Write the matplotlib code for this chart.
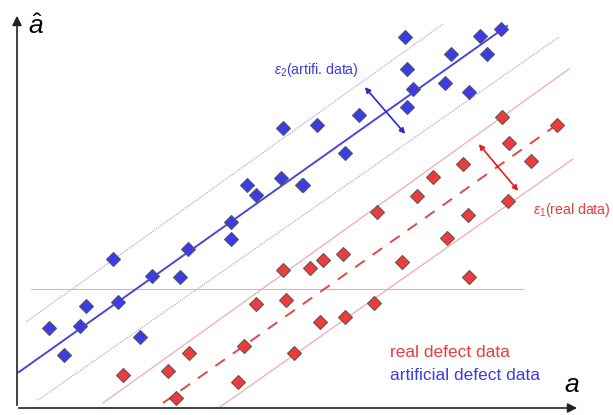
import matplotlib.pyplot as plt

plt.rcParams['font.family'] = ['Liberation Sans', 'DejaVu Sans']
plt.rcParams['mathtext.fontset'] = 'custom'
plt.rcParams['mathtext.rm'] = 'Liberation Sans'
plt.rcParams['mathtext.it'] = 'Liberation Sans:italic'

# schematic coordinates (a to the right, a_hat upward), in figure pixels
blue_a = [283, 317, 247, 256, 281, 302, 405, 480, 501, 451, 487, 407, 413, 445,
          469, 407, 359, 345, 303, 231, 231, 113, 188, 152, 180, 86, 118, 49, 80, 140, 64]
blue_ahat = [287, 290, 230, 220, 237, 230, 378, 379, 386, 361, 361, 346, 326, 332,
             323, 308, 300, 262, 230, 193, 176, 156, 166, 139, 138, 109, 113, 87, 89, 78, 60]

red_a = [502, 557, 509, 531, 463, 433, 417, 508, 377, 468, 447, 343, 323, 310, 402,
         469, 374, 345, 320, 283, 286, 256, 244, 189, 294, 123, 168, 238, 176]
red_ahat = [298, 290, 272, 254, 251, 238, 219, 214, 203, 200, 177, 161, 155, 147, 153,
            138, 112, 98, 93, 145, 115, 111, 69, 62, 62, 40, 44, 33, 17]

# regression line and scatter bands (start / end points)
blue_fit = ([19, 507], [43, 389])
blue_upper = ([26, 443], [93, 391])
blue_lower = ([38, 559], [15, 378])
red_fit = ([163, 565], [12, 296])
red_upper = ([103, 569], [12, 346])
red_lower = ([220, 573], [8, 256])
threshold = ([31, 523], [126, 126])

BLUE = '#3c3ce6'
RED = '#ec3c3c'

fig = plt.figure(figsize=(6.13, 4.15), dpi=100)
ax = fig.add_axes([0, 0, 1, 1])
ax.set_xlim(0, 613)
ax.set_ylim(0, 415)
ax.axis('off')

# bands
ax.plot(*blue_upper, color='#9a9af0', lw=0.8, ls=(0, (1, 1)))
ax.plot(*blue_lower, color='#9a9af0', lw=0.8, ls=(0, (1, 1)))
ax.plot(*red_upper, color='#f4a0a0', lw=0.8)
ax.plot(*red_lower, color='#f4a0a0', lw=0.8)
ax.plot(*threshold, color='#f4a8a8', lw=0.8)

# fits
ax.plot(*blue_fit, color='#4848d8', lw=1.4)
ax.plot(*red_fit, color='#e04848', lw=1.4, ls=(0, (6, 5)))

ax.plot(blue_a, blue_ahat, 'D', ms=7.5, color=BLUE, mec='#555566', mew=0.8)
ax.plot(red_a, red_ahat, 'D', ms=7.5, color=RED, mec='#665555', mew=0.8)

# scatter width arrows
ax.annotate('', xy=(407, 279), xytext=(363, 330),
            arrowprops=dict(arrowstyle='<|-|>', color='#2a2ad0', lw=1.2, mutation_scale=8))
ax.annotate('', xy=(520, 222), xytext=(477, 273),
            arrowprops=dict(arrowstyle='<|-|>', color='#e02020', lw=1.2, mutation_scale=8))

ax.text(274, 345, r'$\varepsilon_2$(artifi. data)', color=BLUE, fontsize=10.2, va='center')
ax.text(533, 205, r'$\varepsilon_1$(real data)', color=RED, fontsize=10.2, va='center')
ax.text(390, 63, 'real defect data', color=RED, fontsize=12.5, va='center')
ax.text(390, 40, 'artificial defect data', color=BLUE, fontsize=12.5, va='center')

# axes arrows
ax.annotate('', xy=(17, 402), xytext=(17, 7),
            arrowprops=dict(arrowstyle='-|>', color='#222222', lw=1.2, mutation_scale=14))
ax.annotate('', xy=(580, 7), xytext=(16, 7),
            arrowprops=dict(arrowstyle='-|>', color='#222222', lw=1.2, mutation_scale=14))
ax.text(28, 388, r'$\hat{a}$', fontsize=19, va='center')
ax.text(564, 30, r'$a$', fontsize=19, va='center')

fig.savefig('out.png', dpi=100)
